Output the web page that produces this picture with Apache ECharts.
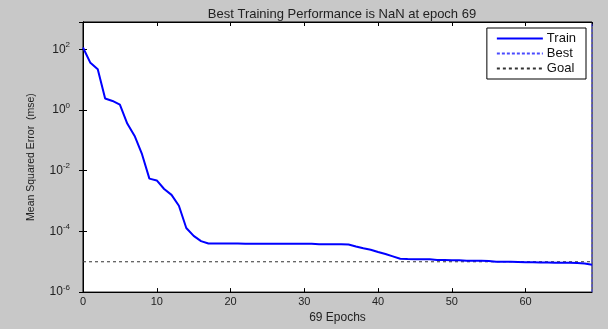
<!DOCTYPE html>
<html>
<head>
<meta charset="utf-8">
<script src="https://cdn.jsdelivr.net/npm/echarts@6/dist/echarts.min.js"></script>
<style>
  html, body { margin: 0; padding: 0; background: #c8c8c8; }
  #main { width: 608px; height: 329px; }
</style>
</head>
<body>
<div id="main"></div>
<script>
// training record
const epochs = [0, 1, 2, 3, 4, 5, 6, 7, 8, 9, 10, 11, 12, 13, 14, 15, 16, 17, 18, 19,
  20, 21, 22, 23, 24, 25, 26, 27, 28, 29, 30, 31, 32, 33, 34, 35, 36, 37, 38, 39,
  40, 41, 42, 43, 44, 45, 46, 47, 48, 49, 50, 51, 52, 53, 54, 55, 56, 57, 58, 59,
  60, 61, 62, 63, 64, 65, 66, 67, 68, 69]
const trainMse = [115, 36, 22, 2.4, 2.0, 1.5, 0.36, 0.14, 0.035, 0.0055, 0.0048, 0.0025, 0.0016, 0.0007, 0.00013, 7.1e-5, 4.8e-5, 4.0e-5, 4.0e-5, 4.0e-5,
  4.0e-5, 4.0e-5, 3.9e-5, 3.9e-5, 3.9e-5, 3.9e-5, 3.9e-5, 3.9e-5, 3.9e-5, 3.9e-5, 3.9e-5, 3.9e-5, 3.8e-5, 3.8e-5, 3.8e-5, 3.8e-5, 3.7e-5, 3.2e-5, 2.8e-5, 2.5e-5,
  2.1e-5, 1.8e-5, 1.5e-5, 1.25e-5, 1.23e-5, 1.22e-5, 1.21e-5, 1.2e-5, 1.15e-5, 1.14e-5, 1.13e-5, 1.12e-5, 1.08e-5, 1.07e-5, 1.07e-5, 1.06e-5, 1.0e-5, 1.0e-5, 1.0e-5, 0.99e-5,
  0.96e-5, 0.96e-5, 0.95e-5, 0.95e-5, 0.93e-5, 0.93e-5, 0.93e-5, 0.91e-5, 0.88e-5, 0.8e-5]
const bestEpoch = 69
const goalMse = 1e-5
const xTicks = [0, 10, 20, 30, 40, 50, 60]
const yExponents = [-6, -4, -2, 0, 2]

const chart = echarts.init(document.getElementById('main'))
const font = 'Liberation Sans, Arial, sans-serif'

function yLabel (v) {
  const e = Math.log10(v)
  const r = Math.round(e)
  if (Math.abs(e - r) > 0.01 || yExponents.indexOf(r) < 0) return ''
  return '{b|10}{s|' + r + '}'
}

function xLabel (v) {
  return xTicks.indexOf(v) >= 0 ? String(v) : ''
}

const trainData = epochs.map((e, i) => [e, trainMse[i]])

chart.setOption({
  backgroundColor: '#c8c8c8',
  animation: false,
  textStyle: { fontFamily: font },
  title: {
    text: 'Best Training Performance is NaN at epoch 69',
    left: 337, top: 3, textAlign: 'center',
    textStyle: { fontSize: 13, fontWeight: 'normal', color: '#222', fontFamily: font }
  },
  grid: {
    left: 83, right: 16, top: 22, bottom: 36,
    show: true, backgroundColor: '#fff', borderColor: '#000', borderWidth: 1
  },
  legend: {
    orient: 'vertical', right: 22, top: 28,
    backgroundColor: '#fff', borderColor: '#000', borderWidth: 1,
    padding: [4, 10, 4, 9], itemGap: 2, itemWidth: 46, itemHeight: 12,
    itemStyle: { opacity: 0 },
    textStyle: { fontSize: 13, color: '#111', fontFamily: font, padding: [0, 0, 0, -1] },
    data: ['Train', 'Best', 'Goal']
  },
  xAxis: [{
    type: 'value', min: 0, max: 69, interval: 10,
    name: '69 Epochs', nameLocation: 'middle', nameGap: 18,
    nameTextStyle: { fontSize: 12, color: '#222' },
    axisLine: { lineStyle: { color: '#000' } },
    axisTick: { inside: true, length: 4, lineStyle: { color: '#000' } },
    axisLabel: { fontSize: 11, color: '#222', margin: 4, formatter: xLabel, showMaxLabel: false },
    splitLine: { show: false }
  }, {
    type: 'value', min: 0, max: 69, interval: 10, position: 'top',
    axisLine: { lineStyle: { color: '#000' } },
    axisTick: { inside: true, length: 4, lineStyle: { color: '#000' } },
    axisLabel: { show: false },
    splitLine: { show: false }
  }],
  yAxis: [{
    type: 'log', logBase: 10, min: 1e-6, max: 800, interval: 2,
    name: 'Mean Squared Error  (mse)', nameLocation: 'middle', nameGap: 46,
    nameTextStyle: { fontSize: 10.5, color: '#222' },
    axisLine: { lineStyle: { color: '#000' } },
    axisTick: { inside: true, length: 4, lineStyle: { color: '#000' } },
    axisLabel: {
      margin: 13, formatter: yLabel, showMaxLabel: false,
      rich: {
        b: { fontSize: 12, color: '#222', fontFamily: font },
        s: { fontSize: 8, color: '#222', fontFamily: font, padding: [0, 0, 9, 0] }
      }
    },
    splitLine: { show: false },
    minorTick: { show: false }
  }, {
    type: 'log', logBase: 10, min: 1e-6, max: 800, interval: 2, position: 'right',
    axisLine: { lineStyle: { color: '#000' } },
    axisTick: { inside: true, length: 4, lineStyle: { color: '#000' } },
    axisLabel: { show: false },
    splitLine: { show: false }
  }],
  series: [{
    name: 'Train', type: 'line', data: trainData,
    symbol: 'none', color: '#0000ff',
    lineStyle: { width: 2, color: '#0000ff' }, z: 5
  }, {
    name: 'Best', type: 'line',
    data: [[bestEpoch, 1e-6], [bestEpoch, 800]],
    symbol: 'none', color: '#6a6aff',
    lineStyle: { width: 1, type: [3, 2], color: '#4a4aff' }, z: 4
  }, {
    name: 'Goal', type: 'line',
    data: [[0, goalMse], [69, goalMse]],
    symbol: 'none', color: '#333',
    lineStyle: { width: 1, type: [3, 3], color: '#333' }, z: 3
  }]
})
</script>
</body>
</html>
